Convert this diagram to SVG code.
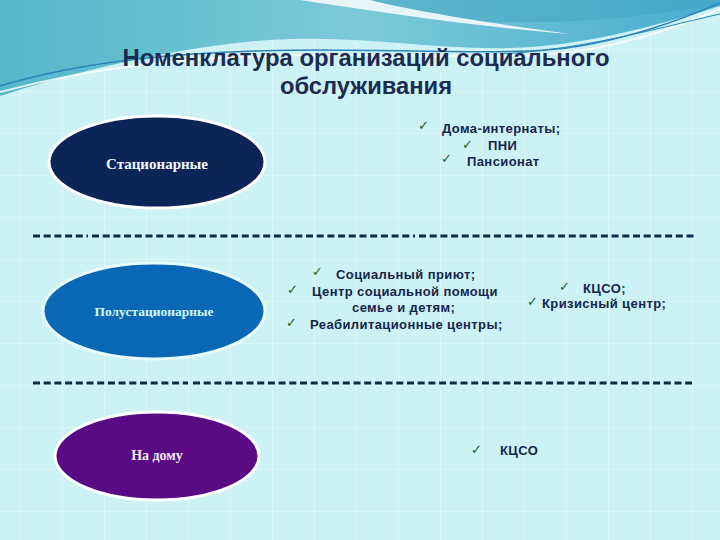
<svg xmlns="http://www.w3.org/2000/svg" width="720" height="540" viewBox="0 0 720 540">
<defs>
<pattern id="grid" x="20" y="7" width="42" height="42" patternUnits="userSpaceOnUse">
<path d="M0,0 V42 M0,0 H42" stroke="#eefcfd" stroke-width="1.2" fill="none" opacity="0.8"/>
</pattern>
<linearGradient id="teal2" x1="0" y1="0" x2="1" y2="0">
<stop offset="0" stop-color="#55b6ca"/>
<stop offset="0.5" stop-color="#7ccad8"/>
<stop offset="1" stop-color="#48acd0"/>
</linearGradient>
<style>
.title{font-family:"Liberation Sans",Arial,sans-serif;font-weight:bold;font-size:23px;fill:#1b2b52;text-anchor:middle}
.item{font-family:"Liberation Sans",Arial,sans-serif;font-weight:bold;font-size:13px;letter-spacing:0.4px;fill:#14254a}
.chk{font-family:"DejaVu Sans",sans-serif;font-weight:bold;font-size:13px;fill:#1a5e1f}
.lbl{font-family:"Liberation Serif","Times New Roman",serif;font-weight:bold;text-anchor:middle}
.sep{stroke:#0f2a44;stroke-width:3;stroke-dasharray:7 3.7;fill:none}
</style>
</defs>
<rect width="720" height="540" fill="#ccf2f6"/>
<rect width="720" height="540" fill="url(#grid)"/>
<g id="header-bg">
<path d="M0,0 H720 V6 C650,28 580,46 510,48 C430,50 360,34 270,40 C170,47 70,74 0,96 Z" fill="url(#teal2)"/>
<path d="M0,0 H720 V4 C640,18 560,24 500,22 C420,18 340,4 300,0 Z" fill="#3fa4c2" opacity="0.5"/>
<path d="M300,0 C380,12 470,26 570,34 C480,22 410,10 370,0 Z" fill="#ffffff" opacity="0.85"/>
<path d="M0,86 C80,62 180,50 320,50 C440,50 520,56 580,46 C640,36 690,16 720,3" stroke="#2a86b8" stroke-width="1.5" fill="none"/>
<path d="M0,92 C90,68 190,55 320,55 C440,55 525,60 585,50 C645,40 695,20 720,9" stroke="#ffffff" stroke-width="2" fill="none" opacity="0.8"/>
<path d="M500,54 C580,50 650,30 720,14" stroke="#2a86b8" stroke-width="1" fill="none"/>
</g>
<g id="title">
<text class="title" x="366" y="66" textLength="487" lengthAdjust="spacingAndGlyphs">Номенклатура организаций социального</text>
<text class="title" x="366" y="94" textLength="172" lengthAdjust="spacingAndGlyphs">обслуживания</text>
</g>
<g id="connectors">
<line class="sep" x1="33" y1="236" x2="88" y2="236" stroke-dasharray="5 4"/>
<line class="sep" x1="92" y1="236" x2="415" y2="236"/>
<line class="sep" x1="419" y1="236" x2="697" y2="236"/>
<line class="sep" x1="33" y1="383" x2="188" y2="383"/>
<line class="sep" x1="193" y1="383" x2="692" y2="383"/>
</g>
<g id="node-stationary">
<ellipse cx="157" cy="162" rx="108" ry="46" fill="#0b2556" stroke="#ffffff" stroke-width="3"/>
<text class="lbl" x="157" y="169" font-size="15" fill="#f4f8ff">Стационарные</text>
</g>
<g id="node-semi">
<ellipse cx="154" cy="311" rx="111" ry="48" fill="#0868b6" stroke="#e8fbfd" stroke-width="3"/>
<text class="lbl" x="154" y="316" font-size="13.5" fill="#d8fbff">Полустационарные</text>
</g>
<g id="node-home">
<ellipse cx="157" cy="456" rx="102" ry="44" fill="#5b0a85" stroke="#ffffff" stroke-width="3"/>
<text class="lbl" x="157" y="460" font-size="14" fill="#f4eefa">На дому</text>
</g>
<g id="list-stationary">
<text class="chk" x="418" y="130">✓</text>
<text class="item" x="442" y="133">Дома-интернаты;</text>
<text class="chk" x="462" y="149">✓</text>
<text class="item" x="488" y="150">ПНИ</text>
<text class="chk" x="441" y="163">✓</text>
<text class="item" x="467" y="166">Пансионат</text>
</g>
<g id="list-semi">
<text class="chk" x="312" y="276">✓</text>
<text class="item" x="336" y="279">Социальный приют;</text>
<text class="chk" x="287" y="294">✓</text>
<text class="item" x="312" y="296">Центр социальной помощи</text>
<text class="item" x="352" y="312">семье и детям;</text>
<text class="chk" x="286" y="327">✓</text>
<text class="item" x="310" y="329">Реабилитационные центры;</text>
</g>
<g id="list-semi-2">
<text class="chk" x="559" y="291">✓</text>
<text class="item" x="583" y="293">КЦСО;</text>
<text class="chk" x="527" y="306">✓</text>
<text class="item" x="542" y="308">Кризисный центр;</text>
</g>
<g id="list-home">
<text class="chk" x="471" y="454">✓</text>
<text class="item" x="500" y="455">КЦСО</text>
</g>
</svg>
